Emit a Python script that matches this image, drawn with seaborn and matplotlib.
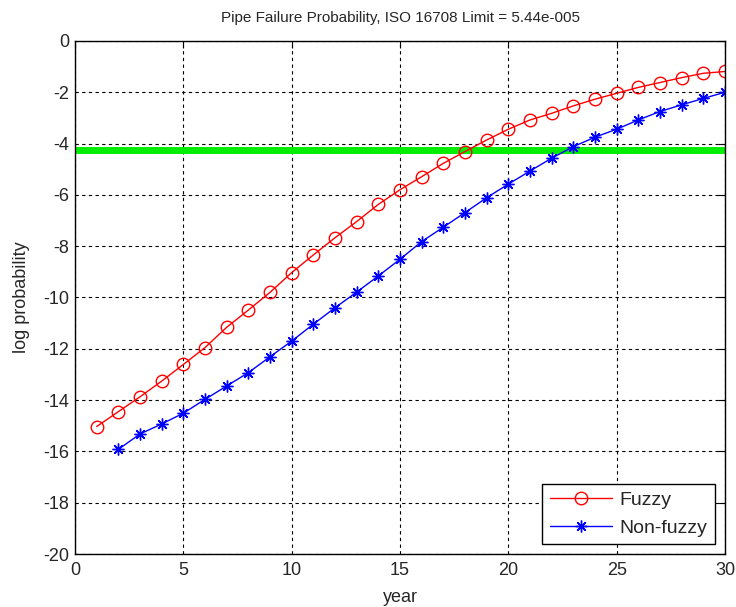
import numpy as np
import pandas as pd
import matplotlib
matplotlib.use('Agg')
import matplotlib.pyplot as plt
import seaborn as sns

sns.set_style('white')
plt.rcParams['font.family'] = ['Liberation Sans', 'DejaVu Sans']
plt.rcParams['axes.unicode_minus'] = False

# Data
fuzzy_years = list(range(1, 31))
fuzzy_logp = [-15.03, -14.45, -13.87, -13.26, -12.61, -11.95, -11.16, -10.49, -9.80, -9.03,
              -8.34, -7.67, -7.04, -6.37, -5.80, -5.29, -4.77, -4.31, -3.86, -3.44,
              -3.08, -2.82, -2.53, -2.27, -2.04, -1.81, -1.62, -1.43, -1.26, -1.19]
nonfuzzy_years = list(range(2, 31))
nonfuzzy_logp = [-15.92, -15.32, -14.93, -14.51, -13.97, -13.45, -12.93, -12.31, -11.70,
                 -11.04, -10.40, -9.79, -9.16, -8.51, -7.82, -7.26, -6.69, -6.11, -5.58,
                 -5.07, -4.57, -4.12, -3.75, -3.44, -3.08, -2.75, -2.49, -2.24, -2.00]
iso_limit = 5.44e-5
title = 'Pipe Failure Probability, ISO 16708 Limit = 5.44e-005'

fuzzy = pd.DataFrame({'year': fuzzy_years, 'logp': fuzzy_logp})
nonfuzzy = pd.DataFrame({'year': nonfuzzy_years, 'logp': nonfuzzy_logp})

fig = plt.figure(figsize=(7.36, 6.07), dpi=100)
ax = fig.add_axes([0.102, 0.0873, 0.883, 0.8452])

sns.lineplot(data=fuzzy, x='year', y='logp', ax=ax, color='red', linewidth=1,
             marker='o', markersize=9, markerfacecolor='none', markeredgecolor='red',
             markeredgewidth=1, label='Fuzzy')
sns.lineplot(data=nonfuzzy, x='year', y='logp', ax=ax, color='blue', linewidth=1,
             marker=(8, 2, 0), markersize=8.5, markeredgecolor='blue',
             markeredgewidth=1, label='Non-fuzzy')
ax.axhline(np.log10(iso_limit), color='#00ee00', linewidth=5, zorder=1)

ax.set_xlim(0, 30)
ax.set_ylim(-20, 0)
ax.set_xticks(np.arange(0, 31, 5))
ax.set_yticks(np.arange(-20, 1, 2))
ax.grid(True, color='black', linestyle=(0, (3, 3)), linewidth=0.8)
ax.tick_params(direction='in', top=True, right=True, length=5, labelsize=13, color='black')
ax.tick_params(axis='x', pad=6)
ax.tick_params(axis='y', pad=4)
for s in ax.spines.values():
    s.set_color('black')
    s.set_linewidth(1)

ax.set_xlabel('year', fontsize=13, labelpad=7)
ax.set_ylabel('log probability', fontsize=13, labelpad=10)
ax.set_title(title, fontsize=11, pad=14)

leg = ax.legend(loc='lower right', fontsize=14, fancybox=False, framealpha=1,
                edgecolor='black', handlelength=3.2, labelspacing=0.5,
                borderaxespad=0.5, handletextpad=0.4)
leg.get_frame().set_linewidth(1)

fig.savefig('out.png', dpi=100)
